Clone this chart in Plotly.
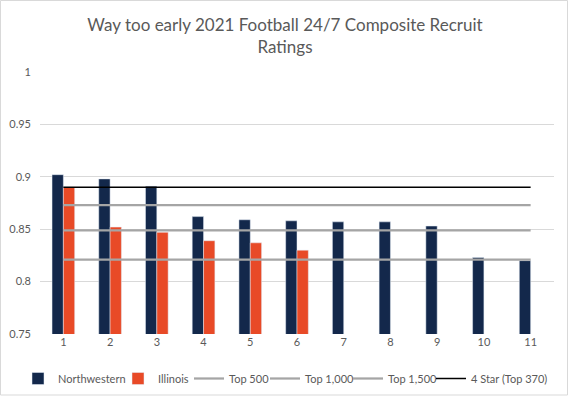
import plotly.graph_objects as go

recruits = list(range(1, 12))
northwestern = [0.902, 0.898, 0.891, 0.862, 0.859, 0.858, 0.857, 0.857, 0.853, 0.823, 0.820]
illinois = [0.890, 0.852, 0.847, 0.839, 0.837, 0.830]
top500 = 0.873
top1000 = 0.849
top1500 = 0.821
four_star = 0.890

W, H = 570, 397
ML, MR, MT, MB = 40, 16, 72, 63
FONT = "Lato, 'Liberation Sans', Arial, sans-serif"
GREY = "#595959"

# legend text start positions (px) for each entry
legend_text_px = [58, 158, 229, 305, 388, 471]
legend_y_px = 378.5

fig = go.Figure()
fig.add_trace(go.Bar(x=recruits, y=northwestern, name="Northwestern",
                     marker_color="#13284b", legend="legend"))
fig.add_trace(go.Bar(x=recruits[:len(illinois)], y=illinois, name="Illinois",
                     marker_color="#e84a27", legend="legend2"))

line_x = [recruits[0], recruits[-1]]
lines = [("Top 500", top500, "#a5a5a5", 2.25),
         ("Top 1,000", top1000, "#a5a5a5", 2.25),
         ("Top 1,500", top1500, "#a5a5a5", 2.25),
         ("4 Star (Top 370)", four_star, "#000000", 1.5)]
for i, (name, val, col, w) in enumerate(lines):
    fig.add_trace(go.Scatter(x=line_x, y=[val, val], mode="lines", name=name,
                             line=dict(color=col, width=w), legend=f"legend{i + 3}"))

pw = W - ML - MR
ph = H - MT - MB
fig.add_shape(type="rect", xref="paper", yref="paper",
              x0=(0.5 - ML) / pw, x1=(567.5 - ML) / pw,
              y0=-(395 - MT - ph) / ph, y1=1 + (MT - 0.5) / ph,
              line=dict(color="#d9d9d9", width=1), layer="below")

legend_common = dict(orientation="h", xref="container", yref="container",
                     xanchor="left", yanchor="middle",
                     font=dict(family=FONT, size=11, color=GREY),
                     bgcolor="rgba(0,0,0,0)", borderwidth=0, itemwidth=30)
legends = {}
for i, tx in enumerate(legend_text_px):
    key = "legend" if i == 0 else f"legend{i + 1}"
    legends[key] = dict(legend_common, x=(tx - 40) / W, y=1 - legend_y_px / H)

fig.update_layout(
    width=W, height=H,
    margin=dict(l=ML, r=MR, t=MT, b=MB, autoexpand=False),
    paper_bgcolor="white", plot_bgcolor="white",
    font=dict(family=FONT, size=11, color=GREY),
    title=dict(text="Way too early 2021 Football 24/7 Composite Recruit<br>Ratings",
               x=0.5, xanchor="center", y=1 - 31 / H, yanchor="top",
               font=dict(family=FONT, size=17, color=GREY)),
    barmode="group", bargap=0.515, bargroupgap=0,
    showlegend=True,
    xaxis=dict(range=[0.5, 11.5], tickmode="linear", dtick=1, tick0=1,
               showgrid=False, zeroline=False, showline=False, ticks=""),
    yaxis=dict(range=[0.75, 1.0], dtick=0.05, tick0=0.75, showgrid=True,
               gridcolor="#d9d9d9", gridwidth=1, zeroline=False, showline=False,
               ticks="", ticklabelstandoff=8),
    **legends,
)

fig.write_html("out.html", config={"displayModeBar": False},
               post_script="document.body.style.margin='0px';")
